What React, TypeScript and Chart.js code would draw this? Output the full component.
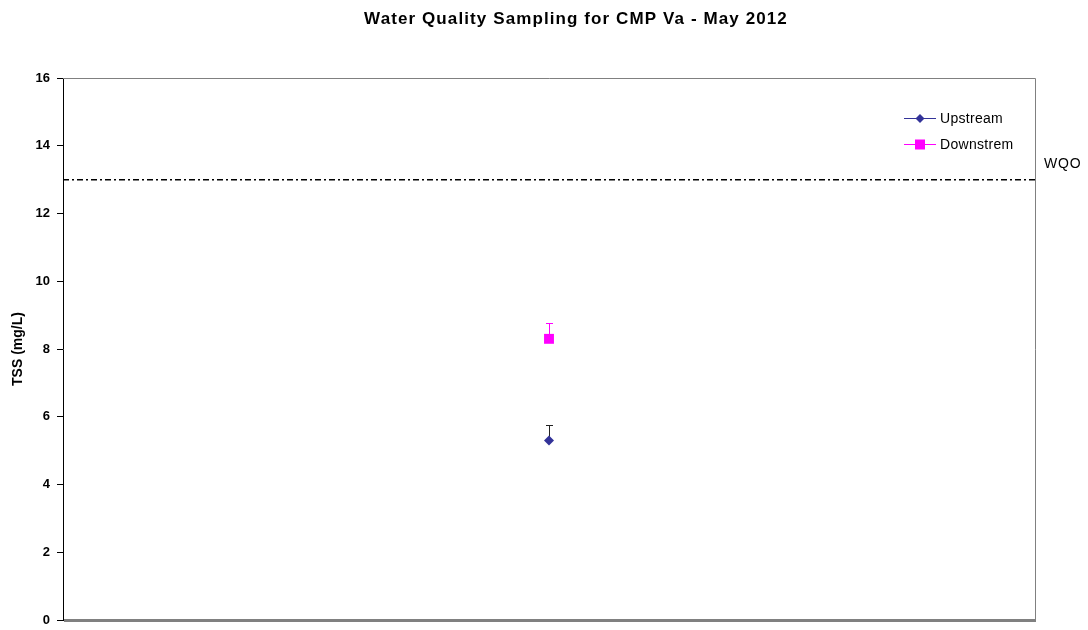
import React, { useEffect, useRef } from "react";
import { Chart, registerables } from "chart.js";

Chart.register(...registerables);

const TITLE = "Water Quality Sampling for CMP Va - May 2012";
const Y_TITLE = "TSS (mg/L)";
const SERIES_NAMES = ["Upstream", "Downstrem"];
const SERIES_VALUES = [5.3, 8.3];
const SERIES_ERRORS = [0.46, 0.47];
const SERIES_COLORS = ["#333399", "#FF00FF"];
const ERROR_COLORS = ["#222222", "#FF00FF"];
const SERIES_STYLES = ["rectRot", "rect"];
const SERIES_RADII = [5, 7];
const WQO_VALUE = 13;
const WQO_LABEL = "WQO";
const Y_MIN = 0;
const Y_MAX = 16;
const Y_STEP = 2;
const X_POSITION = 1;

const FONT = "'Liberation Sans', Arial, sans-serif";

const overlayPlugin = {
  id: "overlay",
  beforeDatasetsDraw(chart: any) {
    const { ctx, chartArea } = chart;
    const x = chart.scales.x;
    const y = chart.scales.y;
    ctx.save();
    ctx.strokeStyle = "#808080";
    ctx.lineWidth = 1;
    ctx.beginPath();
    ctx.moveTo(chartArea.left, chartArea.top + 0.5);
    ctx.lineTo(chartArea.right + 0.5, chartArea.top + 0.5);
    ctx.lineTo(chartArea.right + 0.5, chartArea.bottom);
    ctx.stroke();
    SERIES_VALUES.forEach((v, i) => {
      const px = Math.round(x.getPixelForValue(X_POSITION)) + 0.5;
      const py0 = y.getPixelForValue(v);
      const py1 = Math.round(y.getPixelForValue(v + SERIES_ERRORS[i])) + 0.5;
      ctx.strokeStyle = ERROR_COLORS[i];
      ctx.lineWidth = 1;
      ctx.beginPath();
      ctx.moveTo(px, py0);
      ctx.lineTo(px, py1);
      ctx.moveTo(px - 3.5, py1);
      ctx.lineTo(px + 3.5, py1);
      ctx.stroke();
    });
    ctx.restore();
  },
  afterDraw(chart: any) {
    const { ctx, chartArea } = chart;
    const y = chart.scales.y;
    ctx.save();
    ctx.fillStyle = "#808080";
    ctx.fillRect(chartArea.left + 1, chartArea.bottom - 1, chartArea.right - chartArea.left, 3);
    ctx.fillStyle = "#000";
    ctx.font = `bold 17px ${FONT}`;
    (ctx as any).letterSpacing = "1.1px";
    ctx.textAlign = "center";
    ctx.textBaseline = "middle";
    ctx.fillText(TITLE, 576, 19);
    (ctx as any).letterSpacing = "0.8px";
    ctx.font = `14px ${FONT}`;
    ctx.textAlign = "left";
    ctx.fillText(WQO_LABEL, chartArea.right + 9, y.getPixelForValue(WQO_VALUE) - 15);
    (ctx as any).letterSpacing = "0.3px";
    const legendY = [118, 144];
    SERIES_NAMES.forEach((name, i) => {
      const ly = legendY[i];
      ctx.strokeStyle = SERIES_COLORS[i];
      ctx.lineWidth = 1;
      ctx.beginPath();
      ctx.moveTo(904, ly + 0.5);
      ctx.lineTo(936, ly + 0.5);
      ctx.stroke();
      ctx.fillStyle = SERIES_COLORS[i];
      if (SERIES_STYLES[i] === "rect") {
        ctx.fillRect(915, ly - 4.5, 10, 10);
      } else {
        ctx.beginPath();
        ctx.moveTo(920, ly - 4);
        ctx.lineTo(924.5, ly + 0.5);
        ctx.lineTo(920, ly + 5);
        ctx.lineTo(915.5, ly + 0.5);
        ctx.closePath();
        ctx.fill();
      }
      ctx.fillStyle = "#000";
      ctx.font = `14px ${FONT}`;
      ctx.textAlign = "left";
      ctx.textBaseline = "middle";
      ctx.fillText(name, 940, ly + 1);
    });
    ctx.restore();
  },
};

export default function App() {
  const ref = useRef<HTMLCanvasElement>(null);
  useEffect(() => {
    if (!ref.current) return;
    const datasets: any[] = [
      {
        label: WQO_LABEL,
        data: [
          { x: 0, y: WQO_VALUE },
          { x: 2, y: WQO_VALUE },
        ],
        borderColor: "#000",
        borderWidth: 1.5,
        borderDash: [6, 3, 2, 3],
        pointRadius: 0,
        showLine: true,
        fill: false,
        order: 3,
      },
      ...SERIES_NAMES.map((name, i) => ({
        label: name,
        data: [{ x: X_POSITION, y: SERIES_VALUES[i] }],
        backgroundColor: SERIES_COLORS[i],
        borderColor: SERIES_COLORS[i],
        borderWidth: 0,
        pointStyle: SERIES_STYLES[i],
        pointRadius: SERIES_RADII[i],
        showLine: false,
        order: 1,
      })),
    ];
    const chart = new Chart(ref.current, {
      type: "scatter",
      data: { datasets },
      plugins: [overlayPlugin],
      options: {
        animation: false,
        responsive: false,
        devicePixelRatio: 1,
        layout: { padding: { top: 78, right: 53, bottom: 10, left: 0 } },
        plugins: {
          legend: { display: false },
          tooltip: { enabled: false },
          title: { display: false },
        },
        scales: {
          x: { type: "linear", min: 0, max: 2, display: false },
          y: {
            type: "linear",
            min: Y_MIN,
            max: Y_MAX,
            afterFit: (s: any) => {
              s.width = 63;
              s.paddingTop = 0;
              s.paddingBottom = 0;
            },
            ticks: {
              stepSize: Y_STEP,
              padding: 7,
              color: "#000",
              font: { family: FONT, size: 13, weight: "bold" },
            },
            grid: {
              drawOnChartArea: false,
              drawTicks: true,
              tickLength: 6,
              color: "#000",
            },
            border: { color: "#000", width: 1 },
            title: {
              display: true,
              text: Y_TITLE,
              color: "#000",
              font: { family: FONT, size: 14, weight: "bold" },
              padding: { top: 10, bottom: 0 },
            },
          },
        },
      } as any,
    });
    return () => chart.destroy();
  }, []);
  return (
    <div style={{ position: "fixed", left: 0, top: 0, width: 1088, height: 630, background: "#fff" }}>
      <canvas ref={ref} width={1088} height={630} />
    </div>
  );
}
